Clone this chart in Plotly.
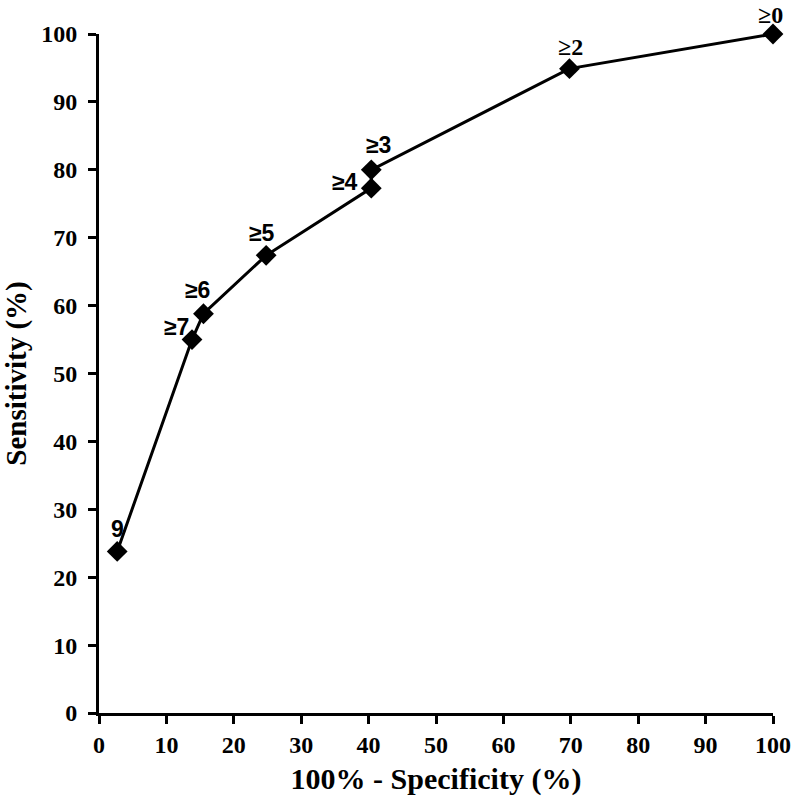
import plotly.graph_objects as go

fpr = [2.7, 13.8, 15.5, 24.8, 40.4, 40.4, 69.8, 100.0]
sens = [23.8, 55.0, 58.8, 67.4, 77.3, 80.0, 94.9, 100.0]
labels = ["9", "≥7", "≥6", "≥5", "≥4", "≥3", "≥2", "≥0"]
label_fonts = ["Liberation Sans", "Liberation Sans", "Liberation Sans", "Liberation Sans",
               "Liberation Sans", "Liberation Sans", "Liberation Serif", "Liberation Serif"]
# pixel offsets of label centers relative to points
label_dx = [0, -16, -6, -4, -26, 7, 1, -3]
label_dy = [22, 13, 24, 22, 6, 25, 22, 19]

x_ticks = list(range(0, 101, 10))
y_ticks = list(range(0, 101, 10))

fig = go.Figure()
fig.add_trace(go.Scatter(
    x=fpr, y=sens, mode="lines+markers",
    line=dict(color="black", width=3),
    marker=dict(symbol="diamond", size=16, color="black"),
    cliponaxis=False, showlegend=False,
))

for x, y, t, f, dx, dy in zip(fpr, sens, labels, label_fonts, label_dx, label_dy):
    fig.add_annotation(x=x, y=y, text=f"<b>{t}</b>", showarrow=False,
                       xshift=dx, yshift=dy,
                       font=dict(family=f, size=23 if f == "Liberation Sans" else 24, color="black"))

tick_font = dict(family="Liberation Serif", size=24, color="black")
fig.update_layout(
    width=798, height=803,
    margin=dict(l=99, r=25, t=34, b=90),
    paper_bgcolor="white", plot_bgcolor="white",
    font=tick_font,
    xaxis=dict(range=[0, 100], tickvals=x_ticks, ticktext=[f"<b>{v}</b>" for v in x_ticks],
               tickfont=tick_font, ticklabeloverflow="allow", automargin=False,
               showline=True, linecolor="black", linewidth=3, ticks="outside",
               ticklen=8, tickwidth=3, tickcolor="black", showgrid=False, zeroline=False,
               title=dict(text="<b>100% - Specificity (%)</b>",
                          font=dict(family="Liberation Serif", size=30, color="black"), standoff=12)),
    yaxis=dict(range=[0, 100], tickvals=y_ticks, ticktext=[f"<b>{v}</b>" for v in y_ticks],
               tickfont=tick_font, ticklabeloverflow="allow", ticklabelstandoff=6, automargin=False,
               showline=True, linecolor="black", linewidth=3, ticks="outside",
               ticklen=8, tickwidth=3, tickcolor="black", showgrid=False, zeroline=False,
               title=dict(text="<b>Sensitivity (%)</b>",
                          font=dict(family="Liberation Serif", size=29, color="black"), standoff=10)),
)

fig.write_html("out.html", config={"displayModeBar": False},
               post_script="document.body.style.margin='0px';")
